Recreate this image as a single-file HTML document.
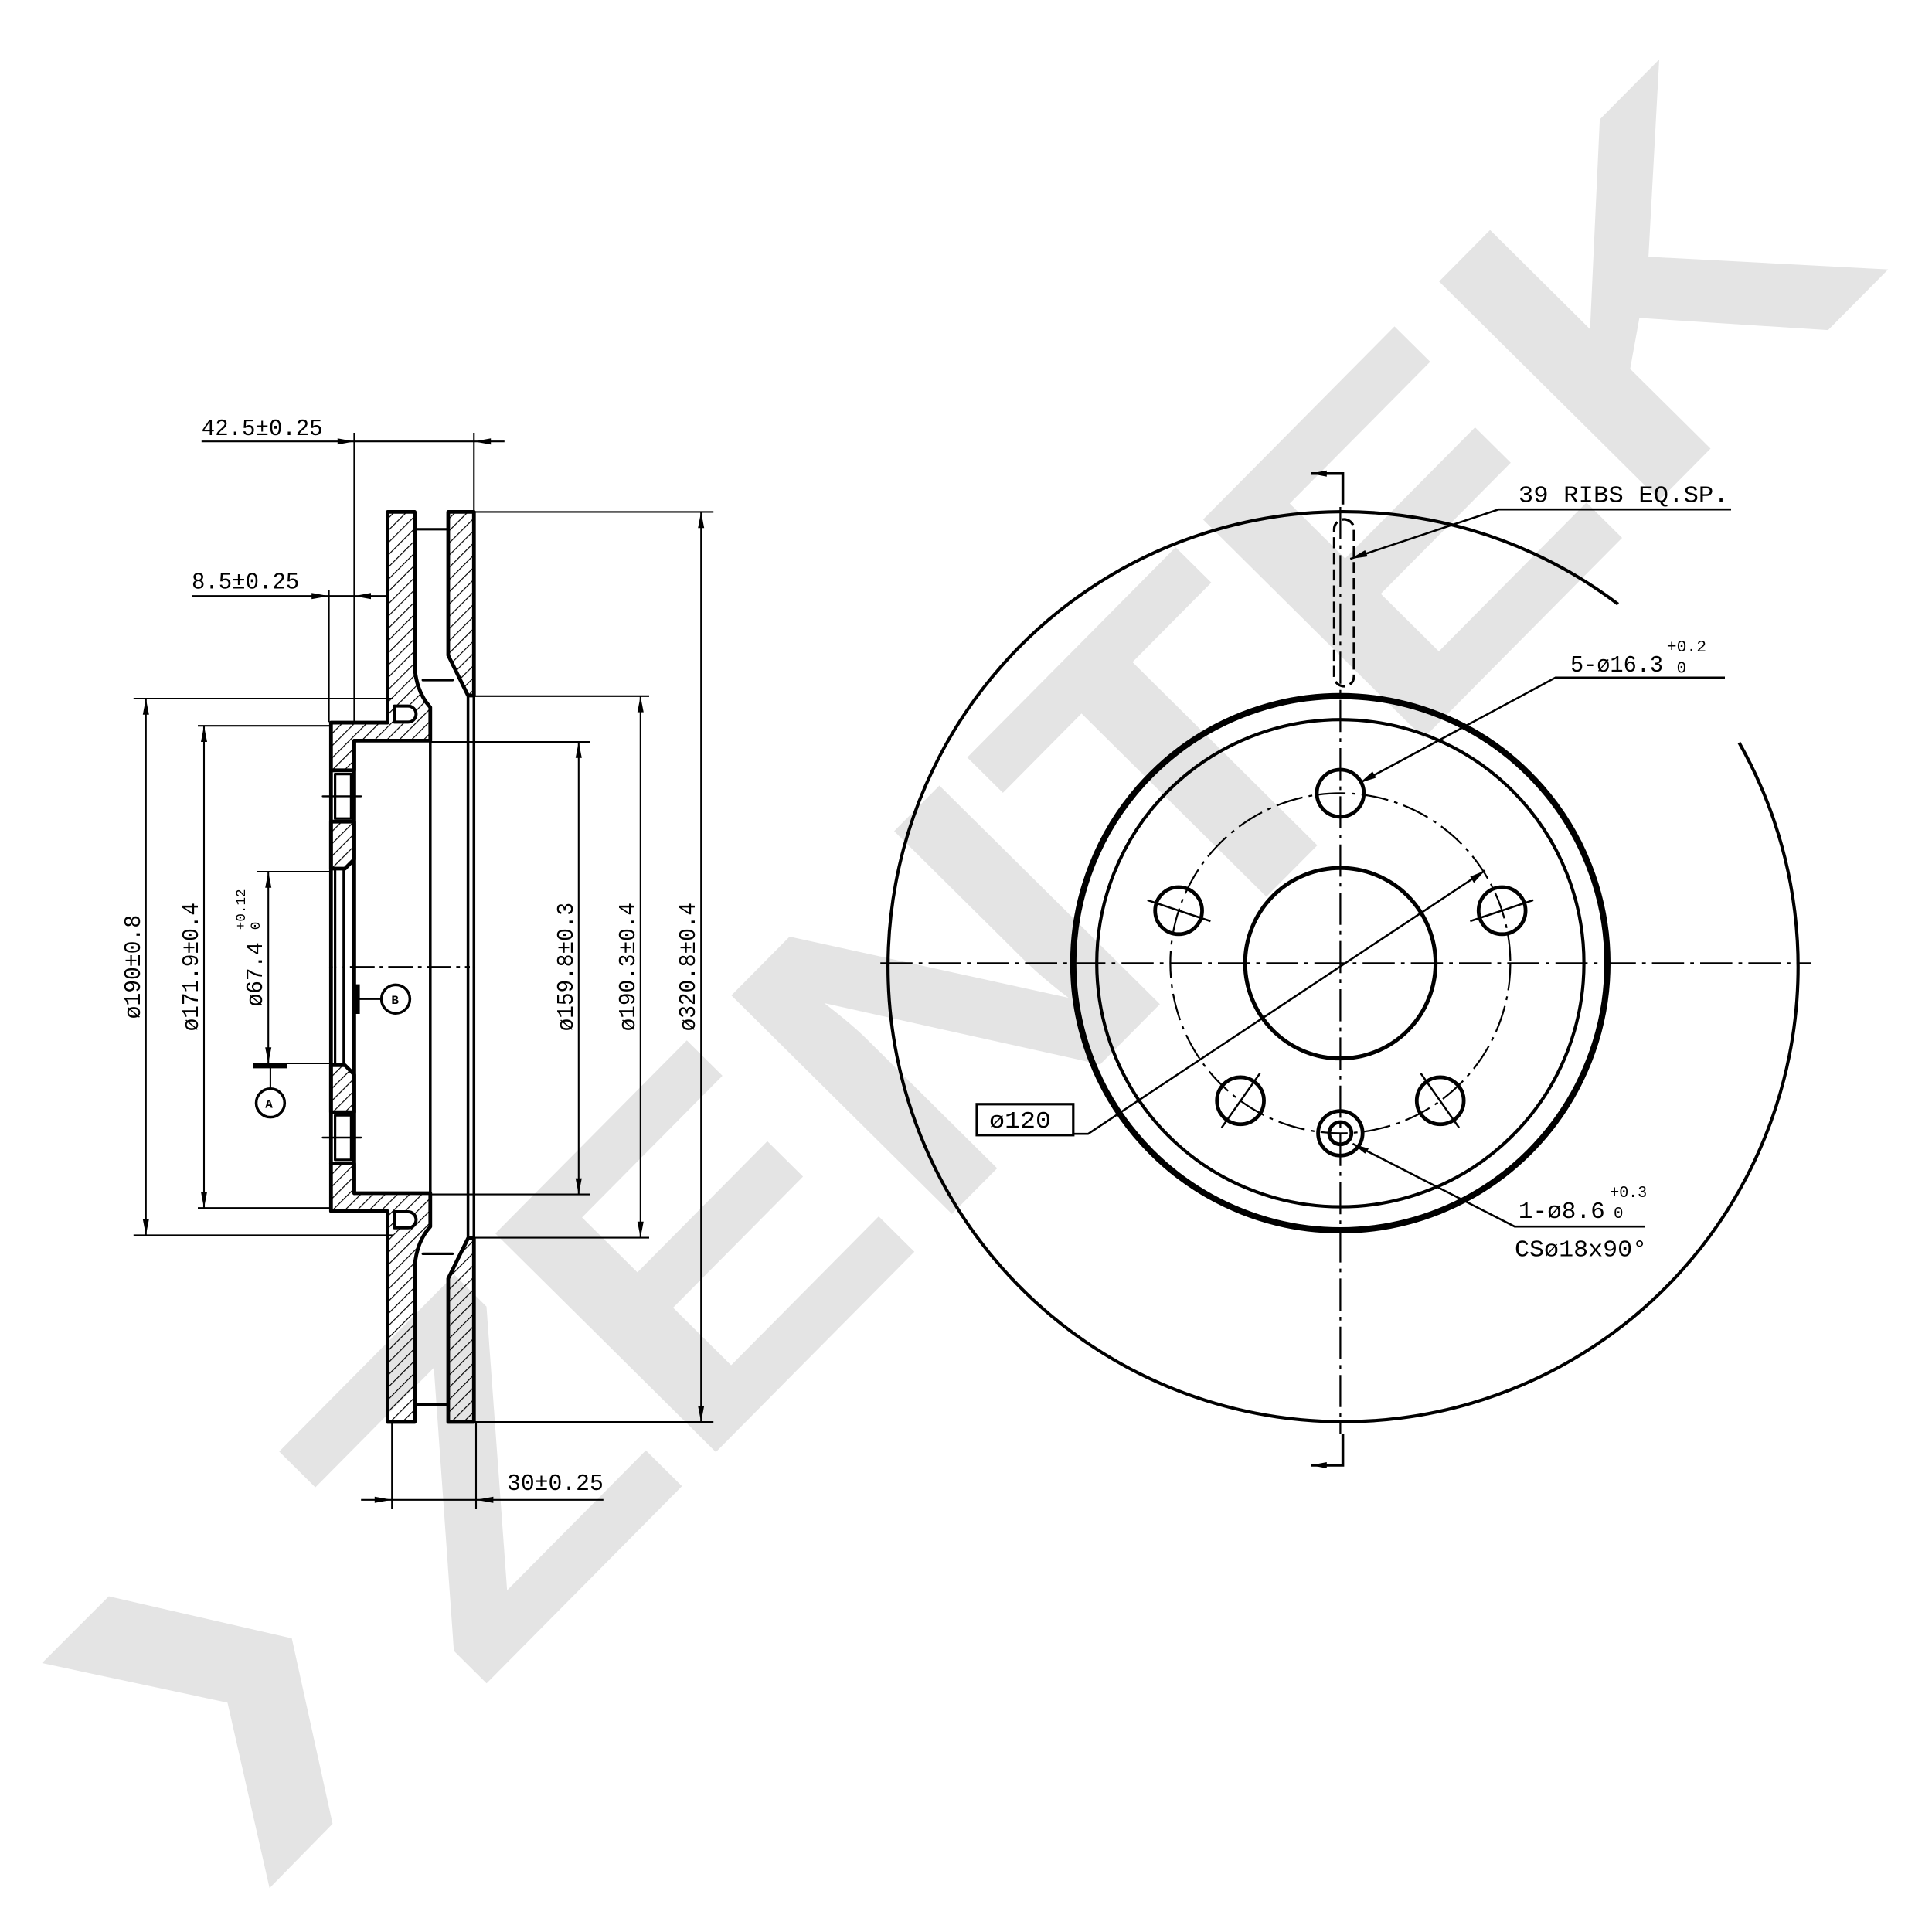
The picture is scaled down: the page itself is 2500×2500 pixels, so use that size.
<!DOCTYPE html>
<html><head><meta charset="utf-8"><style>html,body{margin:0;padding:0;background:#fff}svg{display:block}</style></head>
<body>
<svg width="2500" height="2500" viewBox="0 0 1562.5 1562.5" xmlns="http://www.w3.org/2000/svg">
<defs>
<pattern id="h" width="7" height="7" patternUnits="userSpaceOnUse" patternTransform="rotate(45)"><line x1="0" y1="0" x2="0" y2="7" stroke="#000" stroke-width="1.5"/></pattern>
<pattern id="h2" width="7" height="7" patternUnits="userSpaceOnUse" patternTransform="rotate(-45)"><line x1="0" y1="0" x2="0" y2="7" stroke="#000" stroke-width="1.5"/></pattern>
</defs>
<rect width="1562.5" height="1562.5" fill="#fff"/>
<g fill="#e4e4e4">
<polygon points="34,1345 88,1291 236,1325 269,1475 218,1527 184,1377"/>
<text x="0" y="0" transform="translate(385,1370) rotate(-45.25)" font-family="Liberation Sans, sans-serif" font-weight="bold" font-size="365" textLength="1626" lengthAdjust="spacingAndGlyphs">ZENTEK</text>
</g>

<g fill="none" stroke="#000" stroke-linecap="round" stroke-linejoin="round">
<path d="M313.5,414 L335.4,414 L335.4,540 Q337,560 348,572 L348,599 L286.5,599 L286.5,623 L267.7,623 L267.7,584.4 L313.5,584.4 Z" fill="url(#h)" stroke-width="3"/>
<path d="M319,571 L330,571 A6.5,6.5 0 0 1 330,584 L319,584 Z" fill="#fff" stroke-width="2.5"/>
<path d="M362.5,414 L383.3,414 L383.3,562.5 L378.5,562.5 L362.5,530 Z" fill="url(#h)" stroke-width="3"/>
<path d="M267.7,664.5 L286.5,664.5 L286.5,695 L279,702.5 L267.7,702.5 Z" fill="url(#h)" stroke-width="3"/>
<path d="M271,626 L271,662 L284,662 L284,626 Z M271,702.5 L271,782 M278,702.5 L278,782" stroke-width="2"/>
<path d="M267.7,623 L267.7,782 M286.5,599 L286.5,782" stroke-width="3"/>
<line x1="261" y1="644" x2="292" y2="644" stroke-width="1.5"/>
<path d="M335.4,428 L362.5,428 M342,550 L366,550" stroke-width="2"/>
<path d="M348,599 L348,782 M378.5,562.5 L378.5,782 M383.3,562.5 L383.3,782" stroke-width="2.2"/>
</g>
<g transform="translate(0,1564) scale(1,-1)" fill="none" stroke="#000" stroke-linecap="round" stroke-linejoin="round">
<path d="M313.5,414 L335.4,414 L335.4,540 Q337,560 348,572 L348,599 L286.5,599 L286.5,623 L267.7,623 L267.7,584.4 L313.5,584.4 Z" fill="url(#h2)" stroke-width="3"/>
<path d="M319,571 L330,571 A6.5,6.5 0 0 1 330,584 L319,584 Z" fill="#fff" stroke-width="2.5"/>
<path d="M362.5,414 L383.3,414 L383.3,562.5 L378.5,562.5 L362.5,530 Z" fill="url(#h2)" stroke-width="3"/>
<path d="M267.7,664.5 L286.5,664.5 L286.5,695 L279,702.5 L267.7,702.5 Z" fill="url(#h2)" stroke-width="3"/>
<path d="M271,626 L271,662 L284,662 L284,626 Z M271,702.5 L271,782 M278,702.5 L278,782" stroke-width="2"/>
<path d="M267.7,623 L267.7,782 M286.5,599 L286.5,782" stroke-width="3"/>
<line x1="261" y1="644" x2="292" y2="644" stroke-width="1.5"/>
<path d="M335.4,428 L362.5,428 M342,550 L366,550" stroke-width="2"/>
<path d="M348,599 L348,782 M378.5,562.5 L378.5,782 M383.3,562.5 L383.3,782" stroke-width="2.2"/>
</g>

<g stroke="#000" stroke-width="1.3" fill="none">
<line x1="283" y1="782" x2="380" y2="782" stroke-dasharray="20,4,3,4"/>
<line x1="163" y1="357" x2="408" y2="357"/>
<line x1="286.5" y1="350" x2="286.5" y2="584"/>
<line x1="383.3" y1="350" x2="383.3" y2="414"/>
<line x1="155" y1="482" x2="312" y2="482"/>
<line x1="266" y1="477" x2="266" y2="584"/>
<line x1="292" y1="1213" x2="488" y2="1213"/>
<line x1="317" y1="1150" x2="317" y2="1220"/>
<line x1="385" y1="1150" x2="385" y2="1220"/>
<line x1="383" y1="414" x2="577" y2="414"/>
<line x1="383" y1="1150" x2="577" y2="1150"/>
<line x1="108" y1="565" x2="318" y2="565"/>
<line x1="108" y1="999" x2="318" y2="999"/>
<line x1="160" y1="587" x2="268" y2="587"/>
<line x1="160" y1="977" x2="268" y2="977"/>
<line x1="348" y1="600" x2="477" y2="600"/>
<line x1="348" y1="966" x2="477" y2="966"/>
<line x1="383" y1="563" x2="525" y2="563"/>
<line x1="383" y1="1001" x2="525" y2="1001"/>
<line x1="208" y1="705" x2="268" y2="705"/>
<line x1="208" y1="860" x2="268" y2="860"/>
<line x1="118" y1="565" x2="118" y2="999"/>
<line x1="165" y1="587" x2="165" y2="977"/>
<line x1="217" y1="705" x2="217" y2="860"/>
<line x1="468" y1="600" x2="468" y2="966"/>
<line x1="518" y1="563" x2="518" y2="1001"/>
<line x1="567" y1="414" x2="567" y2="1150"/>
<line x1="205" y1="862" x2="232" y2="862" stroke-width="4"/>
<line x1="218.7" y1="862" x2="218.7" y2="880"/>
<circle cx="218.7" cy="892" r="11.5" stroke-width="2.2"/>
<line x1="290" y1="808" x2="308" y2="808"/>
<line x1="289" y1="796" x2="289" y2="820" stroke-width="4"/>
<circle cx="320" cy="808" r="11.5" stroke-width="2.2"/>
</g>
<g fill="#000">
<polygon points="286.5,357 273,354.5 273,359.5"/>
<polygon points="383.3,357 397,354.5 397,359.5"/>
<polygon points="266,482 252,479.5 252,484.5"/>
<polygon points="286.5,482 300,479.5 300,484.5"/>
<polygon points="317,1213 303,1210.5 303,1215.5"/>
<polygon points="385,1213 399,1210.5 399,1215.5"/>
<polygon points="118,565 115.5,578 120.5,578"/><polygon points="118,999 115.5,986 120.5,986"/>
<polygon points="165,587 162.5,600 167.5,600"/><polygon points="165,977 162.5,964 167.5,964"/>
<polygon points="217,705 214.5,718 219.5,718"/><polygon points="217,860 214.5,847 219.5,847"/>
<polygon points="468,600 465.5,613 470.5,613"/><polygon points="468,966 465.5,953 470.5,953"/>
<polygon points="518,563 515.5,576 520.5,576"/><polygon points="518,1001 515.5,988 520.5,988"/>
<polygon points="567,414 564.5,427 569.5,427"/><polygon points="567,1150 564.5,1137 569.5,1137"/>
</g>
<g font-family="Liberation Mono, monospace" font-size="19" fill="#000">
<text x="163" y="352" textLength="98" lengthAdjust="spacingAndGlyphs">42.5±0.25</text>
<text x="155" y="476" textLength="87" lengthAdjust="spacingAndGlyphs">8.5±0.25</text>
<text x="410" y="1205" textLength="78" lengthAdjust="spacingAndGlyphs">30±0.25</text>
<text font-size="10" x="214.5" y="896" font-weight="bold">A</text>
<text font-size="10" x="316.5" y="812" font-weight="bold">B</text>
<text transform="translate(113,782) rotate(-90)" text-anchor="middle" textLength="84" lengthAdjust="spacingAndGlyphs">ø190±0.8</text>
<text transform="translate(160,782) rotate(-90)" text-anchor="middle" textLength="104" lengthAdjust="spacingAndGlyphs">ø171.9±0.4</text>
<text transform="translate(212,788) rotate(-90)" text-anchor="middle" textLength="52" lengthAdjust="spacingAndGlyphs">ø67.4</text>
<text transform="translate(198,752) rotate(-90)" font-size="11">+0.12</text>
<text transform="translate(210,752) rotate(-90)" font-size="11">0</text>
<text transform="translate(463,782) rotate(-90)" text-anchor="middle" textLength="104" lengthAdjust="spacingAndGlyphs">ø159.8±0.3</text>
<text transform="translate(513,782) rotate(-90)" text-anchor="middle" textLength="104" lengthAdjust="spacingAndGlyphs">ø190.3±0.4</text>
<text transform="translate(562,782) rotate(-90)" text-anchor="middle" textLength="104" lengthAdjust="spacingAndGlyphs">ø320.8±0.4</text>
</g>

<g fill="none" stroke="#000">
<path d="M1406.5,600.6 A368,368 0 1 1 1308.6,488.6" stroke-width="2.6"/>
<circle cx="1084" cy="779" r="216" stroke-width="5"/>
<circle cx="1084" cy="779" r="197" stroke-width="2.6"/>
<circle cx="1084" cy="779" r="77" stroke-width="3.2"/>
<circle cx="1084" cy="779" r="137.5" stroke-width="1.4" stroke-dasharray="22,5,3,5"/>
<line x1="712" y1="779" x2="1465" y2="779" stroke-width="1.4" stroke-dasharray="26,5,3,5"/>
<line x1="1084" y1="410" x2="1084" y2="1160" stroke-width="1.4" stroke-dasharray="26,5,3,5"/>
<g stroke-width="3">
<circle cx="1084" cy="641.5" r="19"/>
<circle cx="1214.8" cy="736.5" r="19"/>
<circle cx="1164.8" cy="890.2" r="19"/>
<circle cx="1003.2" cy="890.2" r="19"/>
<circle cx="953.2" cy="736.5" r="19"/>
<circle cx="1084" cy="916.5" r="18"/>
<circle cx="1084" cy="916.5" r="9"/>
</g>
<g stroke-width="1.6">
<line x1="1189" y1="745" x2="1240" y2="728"/>
<line x1="1149" y1="868" x2="1180" y2="912"/>
<line x1="1019" y1="868" x2="988" y2="912"/>
<line x1="928" y1="728" x2="979" y2="745"/>
<polyline points="1060,383 1086,383 1086,408" stroke-width="2.2"/>
<polyline points="1060,1185 1086,1185 1086,1160" stroke-width="2.2"/>
<rect x="1079" y="420" width="16" height="135" rx="8" stroke-dasharray="9,4" stroke-width="2"/>
<polyline points="1400,412 1212,412 1092,452" stroke-width="1.6"/>
<polyline points="1395,548 1258,548 1100,633" stroke-width="1.6"/>
<polyline points="1330,992 1225,992 1094,925" stroke-width="1.6"/>
<polyline points="868,917 880,917 1201,704" stroke-width="1.6"/>
<rect x="790" y="893" width="78" height="25" stroke-width="2"/>
</g>
</g>
<g fill="#000">
<polygon points="1060,383 1073,380.5 1073,385.5"/>
<polygon points="1060,1185 1073,1182.5 1073,1187.5"/>
<polygon points="1201,704 1192,714 1189,709"/>
<polygon points="1092,452 1104,445 1106,450"/>
<polygon points="1100,633 1110,624 1113,629"/>
<polygon points="1094,925 1107,929 1104,933"/>
</g>
<g font-family="Liberation Mono, monospace" font-size="19" fill="#000">
<text x="1228" y="406" textLength="170" lengthAdjust="spacingAndGlyphs">39 RIBS EQ.SP.</text>
<text x="1270" y="543" textLength="75" lengthAdjust="spacingAndGlyphs">5-ø16.3</text>
<text x="1348" y="527" font-size="13" textLength="32" lengthAdjust="spacingAndGlyphs">+0.2</text>
<text x="1356" y="544" font-size="13">0</text>
<text x="1228" y="985" textLength="70" lengthAdjust="spacingAndGlyphs">1-ø8.6</text>
<text x="1302" y="968" font-size="13" textLength="30" lengthAdjust="spacingAndGlyphs">+0.3</text>
<text x="1305" y="985" font-size="13">0</text>
<text x="1225" y="1016" textLength="107" lengthAdjust="spacingAndGlyphs">CSø18x90°</text>
<text x="800" y="912" textLength="50" lengthAdjust="spacingAndGlyphs">ø120</text>
</g>
</svg>
</body></html>
